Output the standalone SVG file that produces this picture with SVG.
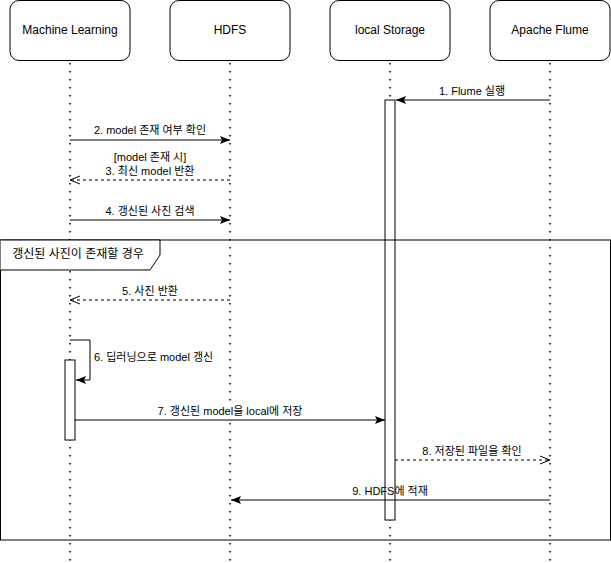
<svg xmlns="http://www.w3.org/2000/svg" width="611" height="563" viewBox="0 0 611 563">
<style>
text{font-family:"Liberation Sans",Arial,"Noto Sans CJK KR",sans-serif;fill:#000}
.p rect{fill:#fff;stroke:#000;stroke-width:1}
.p text{font-size:12px;text-anchor:middle}
.life{stroke:#000;stroke-width:1.5;stroke-dasharray:1.5 6.5;fill:none}
.act{fill:#fff;stroke:#000;stroke-width:1}
.m{stroke:#000;stroke-width:1;fill:none}
.d{stroke-dasharray:3 3}
.lbl{font-size:11px;text-anchor:middle}
</style>
<defs>
<marker id="solid" viewBox="0 0 10 10" refX="10" refY="5" markerWidth="10" markerHeight="10" markerUnits="userSpaceOnUse" orient="auto">
<path d="M0,1 L10,5 L0,9 L2,5 Z" fill="#000"/>
</marker>
<marker id="open" viewBox="0 0 10 10" refX="10" refY="5" markerWidth="10" markerHeight="10" markerUnits="userSpaceOnUse" orient="auto">
<path d="M0,1 L10,5 L0,9" fill="none" stroke="#000" stroke-width="1"/>
</marker>
</defs>
<rect width="611" height="563" fill="#fff"/>
<g id="lifelines">
<line class="life" x1="70" y1="63" x2="70" y2="563"/>
<line class="life" x1="230" y1="63" x2="230" y2="563"/>
<line class="life" x1="390" y1="63" x2="390" y2="563"/>
<line class="life" x1="550" y1="63" x2="550" y2="563"/>
</g>
<g id="p-ml" class="p"><rect x="10" y="0.5" width="120" height="60" rx="9"/><text x="70" y="34">Machine Learning</text></g>
<g id="p-hdfs" class="p"><rect x="170" y="0.5" width="120" height="60" rx="9"/><text x="230" y="34">HDFS</text></g>
<g id="p-local" class="p"><rect x="330" y="0.5" width="120" height="60" rx="9"/><text x="390" y="34">local Storage</text></g>
<g id="p-flume" class="p"><rect x="490" y="0.5" width="120" height="60" rx="9"/><text x="550" y="34">Apache Flume</text></g>
<g id="activations">
<rect class="act" x="385" y="100" width="10" height="420"/>
<rect class="act" x="65" y="360" width="10" height="80"/>
</g>
<g id="frame">
<rect x="0.5" y="240" width="610" height="300" fill="none" stroke="#000" stroke-width="1"/>
<path d="M0.5,240 H160 V255 L150,270 H0.5" fill="#fff" stroke="#000" stroke-width="1"/>
<text x="78" y="258" font-size="12" text-anchor="middle">갱신된 사진이 존재할 경우</text>
</g>
<g id="connectors">
<line class="m" x1="550" y1="100" x2="396" y2="100" marker-end="url(#solid)"/>
<text class="lbl" x="472" y="95">1. Flume 실행</text>
<line class="m" x1="70" y1="140" x2="230" y2="140" marker-end="url(#solid)"/>
<text class="lbl" x="150" y="134">2. model 존재 여부 확인</text>
<line class="m d" x1="230" y1="180" x2="70" y2="180" marker-end="url(#open)"/>
<text class="lbl" x="150" y="161">[model 존재 시]</text>
<text class="lbl" x="150" y="175">3. 최신 model 반환</text>
<line class="m" x1="70" y1="220" x2="230" y2="220" marker-end="url(#solid)"/>
<text class="lbl" x="150" y="215">4. 갱신된 사진 검색</text>
<line class="m d" x1="230" y1="300" x2="70" y2="300" marker-end="url(#open)"/>
<text class="lbl" x="150" y="295">5. 사진 반환</text>
<path class="m" d="M70,340 H90 V380 H76" marker-end="url(#solid)"/>
<text x="94" y="361" font-size="11">6. 딥러닝으로 model 갱신</text>
<line class="m" x1="75" y1="420" x2="385" y2="420" marker-end="url(#solid)"/>
<rect x="155" y="404" width="150" height="13" fill="#fff"/>
<text class="lbl" x="230" y="415">7. 갱신된 model을 local에 저장</text>
<line class="m d" x1="395" y1="460" x2="550" y2="460" marker-end="url(#open)"/>
<text class="lbl" x="472" y="455">8. 저장된 파일을 확인</text>
<line class="m" x1="550" y1="500" x2="231" y2="500" marker-end="url(#solid)"/>
<text class="lbl" x="390" y="495">9. HDFS에 적재</text>
</g>
</svg>
